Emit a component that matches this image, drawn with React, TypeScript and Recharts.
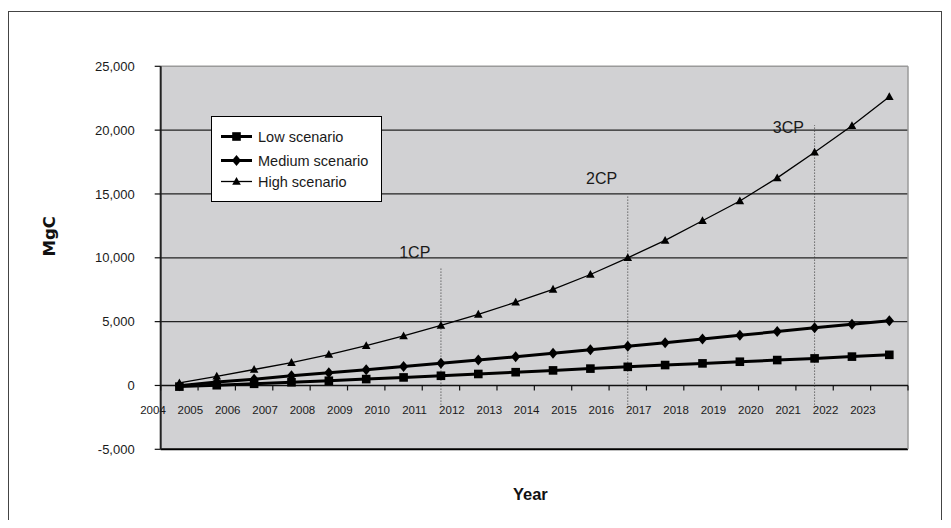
import React from "react";
import { LineChart, Line, XAxis, YAxis, ReferenceLine, ReferenceDot, Legend, CartesianGrid } from "recharts";

// year tick labels (one per category band)
const years = [
  "2004", "2005", "2006", "2007", "2008", "2009", "2010", "2011", "2012", "2013",
  "2014", "2015", "2016", "2017", "2018", "2019", "2020", "2021", "2022", "2023",
];

// MgC per scenario
const lowScenario = [-90, 20, 130, 250, 370, 500, 630, 760, 900, 1040, 1180, 1320, 1460, 1600, 1730, 1860, 1990, 2120, 2260, 2400];
const mediumScenario = [-30, 270, 490, 760, 1000, 1240, 1480, 1740, 1990, 2250, 2520, 2790, 3070, 3350, 3640, 3930, 4220, 4520, 4800, 5070];
const highScenario = [200, 720, 1250, 1790, 2420, 3120, 3880, 4700, 5570, 6520, 7530, 8690, 10000, 11360, 12900, 14450, 16260, 18270, 20350, 22620];

const yTicks = [-5000, 0, 5000, 10000, 15000, 20000, 25000];
const gridValues = [5000, 10000, 15000, 20000];

// commitment periods: which data point the marker line sits on, and how high it reaches
const periodNames = ["1CP", "2CP", "3CP"];
const periodIndex = [7, 12, 17];
const periodTop = [9300, 14800, 20400];
const periodLabelY = [10450, 16250, 20200];

const data = years.map((_, i) => ({
  x: i + 0.5,
  low: lowScenario[i],
  medium: mediumScenario[i],
  high: highScenario[i],
}));
const xTicks = Array.from({ length: years.length + 1 }, (_, i) => i);

const W = 935;
const H = 512;
const margin = { top: 58.3, right: 35, bottom: 10.7, left: 20 };
const Y_AXIS_W = 132.7;
const X_AXIS_H = 60;
const PLOT_H = H - margin.top - margin.bottom - X_AXIS_H;
const ZERO_SHIFT = (PLOT_H * 5000) / 30000;
const FONT = "Liberation Sans";

const series = [
  { key: "low", name: "Low scenario", width: 3, shape: "square" },
  { key: "medium", name: "Medium scenario", width: 3, shape: "diamond" },
  { key: "high", name: "High scenario", width: 1.3, shape: "triangle" },
];

function Marker({ cx, cy, shape }: { cx: number; cy: number; shape: string }) {
  if (shape === "square") return <rect x={cx - 4.3} y={cy - 4.3} width={8.6} height={8.6} fill="#000" />;
  if (shape === "diamond")
    return <polygon points={`${cx},${cy - 5.5} ${cx + 4.6},${cy} ${cx},${cy + 5.5} ${cx - 4.6},${cy}`} fill="#000" />;
  return <polygon points={`${cx},${cy - 4.5} ${cx + 4.3},${cy + 3.3} ${cx - 4.3},${cy + 3.3}`} fill="#000" />;
}

function YearTick(props: any) {
  const { x, y, payload } = props;
  const y0 = y - ZERO_SHIFT;
  const label = years[payload.value] ?? "";
  return (
    <g>
      <line x1={x} x2={x} y1={y0} y2={y0 + 5} stroke="#111" strokeWidth={1.2} />
      <text x={x - 7.7} y={y0 + 28.5} textAnchor="middle" fontSize={11.5} fontFamily={FONT} fill="#1a1a1a">
        {label}
      </text>
    </g>
  );
}

function LegendBox() {
  const rows = [20.5, 44.5, 65.5];
  return (
    <svg width={171} height={86} style={{ display: "block" }}>
      <rect x={0.5} y={0.5} width={170} height={85} fill="#fff" stroke="#000" strokeWidth={1} />
      {series.map((s, i) => (
        <g key={s.key}>
          <line x1={10} x2={41} y1={rows[i]} y2={rows[i]} stroke="#000" strokeWidth={s.width} />
          <Marker cx={25.5} cy={rows[i]} shape={s.shape} />
          <text x={47} y={rows[i] + 5} fontSize={14.5} fontFamily={FONT} fill="#1a1a1a">
            {s.name}
          </text>
        </g>
      ))}
    </svg>
  );
}

export default function App() {
  return (
    <div style={{ position: "relative", width: W, height: H }}>
      <div
        style={{
          position: "absolute",
          left: 0,
          top: 3,
          width: W - 1.5,
          height: H - 3,
          borderTop: "1.5px solid #444",
          borderLeft: "1.5px solid #444",
          borderRight: "1.5px solid #444",
          boxSizing: "border-box",
        }}
      />
      <LineChart width={W} height={H} data={data} margin={margin} style={{ position: "absolute", left: 0, top: 0 }}>
        <CartesianGrid horizontal={false} vertical={false} fill="#d1d1d3" />
        {gridValues.map((v) => (
          <ReferenceLine key={v} y={v} stroke="#222" strokeWidth={1.3} />
        ))}
        <ReferenceLine y={-5000} stroke="#000" strokeWidth={2} />
        <ReferenceLine y={25000} stroke="#9a9a9a" strokeWidth={1.5} />
        <ReferenceLine x={20} stroke="#9a9a9a" strokeWidth={1.5} />
        <ReferenceLine y={0} stroke="#111" strokeWidth={1.5} />
        {periodNames.map((n, i) => (
          <ReferenceLine
            key={n}
            segment={[
              { x: periodIndex[i] + 0.5, y: -1500 },
              { x: periodIndex[i] + 0.5, y: periodTop[i] },
            ]}
            stroke="#333"
            strokeWidth={1}
            strokeDasharray="1 2"
          />
        ))}
        {periodNames.map((n, i) => (
          <ReferenceDot
            key={`l-${n}`}
            x={periodIndex[i] - 0.2}
            y={periodLabelY[i]}
            r={0}
            fill="none"
            stroke="none"
            label={{ value: n, position: "center", fontSize: 16, fontFamily: FONT, fill: "#1a1a1a" }}
          />
        ))}
        <XAxis
          type="number"
          dataKey="x"
          domain={[0, 20]}
          ticks={xTicks}
          interval={0}
          height={X_AXIS_H}
          axisLine={false}
          tickLine={false}
          tickSize={0}
          tickMargin={0}
          tick={<YearTick />}
          label={{
            content: (p: any) => (
              <text
                x={p.viewBox.x + p.viewBox.width / 2 - 4}
                y={p.viewBox.y + 51}
                textAnchor="middle"
                fontSize={16.5}
                fontWeight="bold"
                fontFamily={FONT}
                fill="#111"
              >
                Year
              </text>
            ),
          }}
        />
        <YAxis
          type="number"
          domain={[-5000, 25000]}
          ticks={yTicks}
          width={Y_AXIS_W}
          tickSize={6}
          tickMargin={20}
          tickFormatter={(v: number) => v.toLocaleString("en-US")}
          tick={{ fill: "#1a1a1a", fontSize: 13, fontFamily: FONT }}
          axisLine={{ stroke: "#222", strokeWidth: 2 }}
          tickLine={{ stroke: "#111", strokeWidth: 1.2 }}
          label={{
            content: (p: any) => (
              <text
                x={p.viewBox.x + 27}
                y={margin.top + 170}
                transform={`rotate(-90 ${p.viewBox.x + 27} ${margin.top + 170})`}
                textAnchor="middle"
                fontSize={16.5}
                fontWeight="bold"
                fontFamily="DejaVu Sans"
                fill="#111"
              >
                MgC
              </text>
            ),
          }}
        />
        <Legend
          layout="vertical"
          align="center"
          verticalAlign="middle"
          content={() => <LegendBox />}
          wrapperStyle={{ position: "absolute", left: 202.7, top: 108, width: 171, height: 86 }}
        />
        {series.map((s) => (
          <Line
            key={s.key}
            dataKey={s.key}
            name={s.name}
            stroke="#000"
            strokeWidth={s.width}
            isAnimationActive={false}
            dot={(p: any) => <Marker key={`${s.key}-${p.index}`} cx={p.cx} cy={p.cy} shape={s.shape} />}
            activeDot={false}
          />
        ))}
      </LineChart>
    </div>
  );
}
